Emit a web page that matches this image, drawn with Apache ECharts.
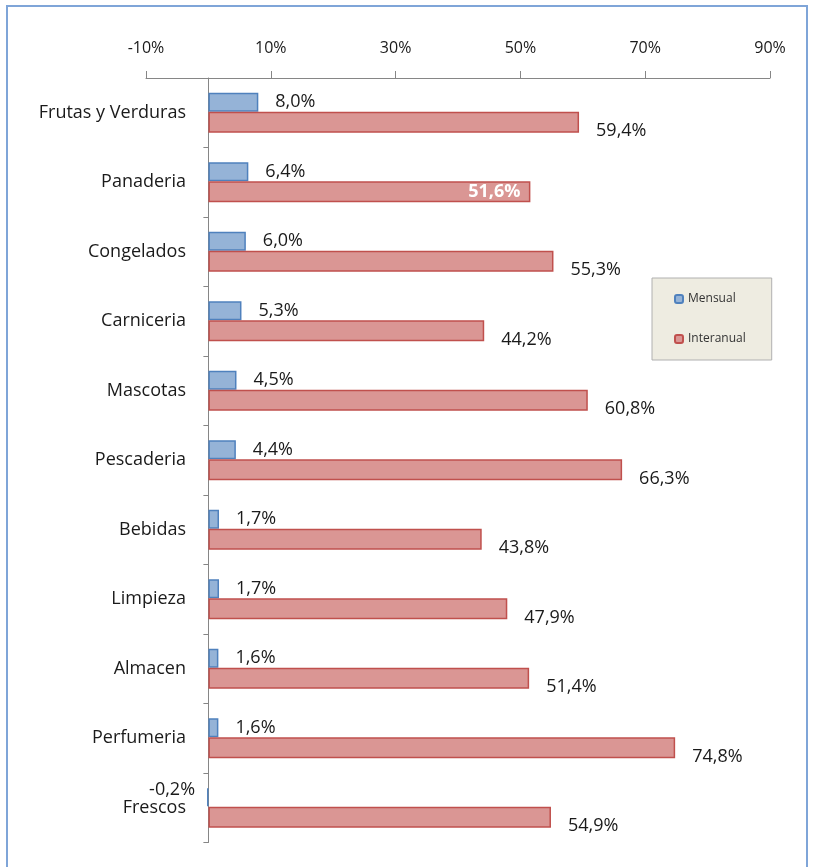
<!DOCTYPE html>
<html lang="es">
<head>
    <meta charset="UTF-8">
    <title>Variación de precios por sección</title>
    <style>
        html, body { margin: 0; padding: 0; background: #fff; }
        #chart { width: 813px; height: 867px; }
    </style>
</head>
<body>
    <div id="chart"></div>
    <script src="https://cdn.jsdelivr.net/npm/echarts@6/dist/echarts.min.js"></script>
    <script>
        // datos
        var categorias = ["Frutas y Verduras", "Panaderia", "Congelados", "Carniceria", "Mascotas",
            "Pescaderia", "Bebidas", "Limpieza", "Almacen", "Perfumeria", "Frescos"];
        var mensual = [8.0, 6.4, 6.0, 5.3, 4.5, 4.4, 1.7, 1.7, 1.6, 1.6, -0.2];
        var interanual = [59.4, 51.6, 55.3, 44.2, 60.8, 66.3, 43.8, 47.9, 51.4, 74.8, 54.9];

        function pct(v) {
            return v.toFixed(1).replace('.', ',') + '%';
        }

        var fuente = '"Open Sans", "Noto Sans", sans-serif';
        var texto = '#1a1a1a';

        var chart = echarts.init(document.getElementById('chart'));
        var option = {
            animation: false,
            textStyle: { fontFamily: fuente },
            graphic: [{
                type: 'rect',
                shape: { x: 7, y: 6, width: 800, height: 900 },
                style: { fill: 'none', stroke: '#7fa5d8', lineWidth: 2 },
                silent: true
            }],
            grid: { left: 146, right: 43, top: 78, bottom: 24.5 },
            legend: {
                orient: 'vertical',
                left: 652,
                top: 278,
                padding: [15, 26, 15, 22],
                itemGap: 28,
                itemWidth: 8,
                itemHeight: 8,
                backgroundColor: '#eeece1',
                borderColor: '#b0b0b0',
                borderWidth: 1,
                textStyle: { fontSize: 12, color: '#333', fontFamily: fuente },
                data: ['Mensual', 'Interanual']
            },
            xAxis: {
                type: 'value',
                position: 'top',
                min: -10,
                max: 90,
                interval: 20,
                axisLine: { show: true, lineStyle: { color: '#868686' } },
                axisTick: { show: true, length: 7, lineStyle: { color: '#868686' } },
                splitLine: { show: false },
                axisLabel: {
                    margin: 22,
                    fontSize: 16,
                    color: texto,
                    formatter: function (v) { return v + '%'; }
                }
            },
            yAxis: {
                type: 'category',
                inverse: true,
                data: categorias,
                axisLine: { onZero: true, lineStyle: { color: '#868686' } },
                axisTick: { show: true, length: 5, lineStyle: { color: '#868686' } },
                // las etiquetas se miden desde el borde del grid, no desde el eje en 0
                axisLabel: { margin: -40, fontSize: 18, color: texto }
            },
            series: [{
                name: 'Mensual',
                type: 'bar',
                data: mensual.map(function (v) {
                    if (v < 0) {
                        return { value: v, label: { position: 'left', distance: 12, offset: [0, -7] } };
                    }
                    return v;
                }),
                barWidth: 19,
                barGap: '0%',
                itemStyle: { color: '#95b3d7', borderColor: '#4f81bd', borderWidth: 1.5 },
                label: {
                    show: true,
                    position: 'right',
                    distance: 17,
                    fontSize: 18,
                    color: texto,
                    formatter: function (p) { return pct(p.value); }
                }
            }, {
                name: 'Interanual',
                type: 'bar',
                data: interanual.map(function (v, i) {
                    if (categorias[i] === 'Panaderia') {
                        return {
                            value: v,
                            label: { position: 'insideRight', distance: 10, offset: [0, 0], color: '#fff', fontWeight: 'bold' }
                        };
                    }
                    return v;
                }),
                barWidth: 21,
                barGap: '0%',
                itemStyle: { color: '#da9694', borderColor: '#c0504d', borderWidth: 1.5 },
                label: {
                    show: true,
                    position: 'right',
                    distance: 17,
                    offset: [0, 9],
                    fontSize: 18,
                    color: texto,
                    formatter: function (p) { return pct(p.value); }
                }
            }]
        };
        chart.setOption(option);
    </script>
</body>
</html>
